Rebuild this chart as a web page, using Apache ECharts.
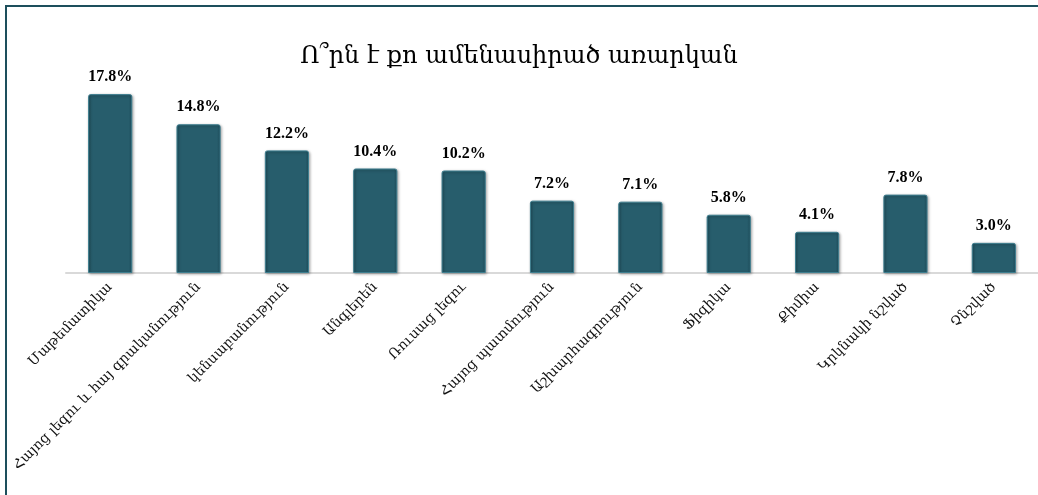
<!DOCTYPE html>
<html lang="hy">
<head>
    <meta charset="UTF-8">
    <title>Ո՞րն է քո ամենասիրած առարկան</title>
    <script src="https://cdn.jsdelivr.net/npm/echarts@6/dist/echarts.min.js"></script>
    <style>
        html, body { margin: 0; padding: 0; background: #fff; }
        #charts { width: 1038px; height: 495px; }
    </style>
</head>
<body>
<div id="charts"></div>
<script>
    var titleText = 'Ո՞րն է քո ամենասիրած առարկան';
    var subjects = [
        'Մաթեմատիկա',
        'Հայոց լեզու և հայ գրականություն',
        'կենսաբանություն',
        'Անգլերեն',
        'Ռուսաց լեզու',
        'Հայոց պատմություն',
        'Աշխարհագրություն',
        'Ֆիզիկա',
        'Քիմիա',
        'Կրկնակի նշված',
        'Չնշված'
    ];
    var percents = [17.8, 14.8, 12.2, 10.4, 10.2, 7.2, 7.1, 5.8, 4.1, 7.8, 3.0];

    var armFont = "'DejaVu Serif', 'DejaVu Sans', serif";
    var myChart = echarts.init(document.getElementById('charts'));

    var option = {
        animation: false,
        title: {
            text: titleText,
            left: 'center',
            top: 40,
            textStyle: {
                fontFamily: armFont,
                fontSize: 24,
                fontWeight: 'normal',
                color: '#000'
            }
        },
        grid: {
            left: 66,
            width: 978,
            top: 72,
            bottom: 222
        },
        xAxis: {
            type: 'category',
            data: subjects,
            axisTick: { show: false },
            axisLine: {
                lineStyle: { color: '#d9d9d9', width: 2 }
            },
            axisLabel: {
                interval: 0,
                rotate: 45,
                margin: 12,
                fontFamily: armFont,
                fontSize: 14,
                color: '#111'
            }
        },
        yAxis: {
            type: 'value',
            min: 0,
            max: 20,
            show: false
        },
        series: [
            {
                type: 'bar',
                data: percents,
                barCategoryGap: '50%',
                itemStyle: {
                    color: new echarts.graphic.LinearGradient(0, 0, 1, 0, [
                        { offset: 0, color: '#1f4f5d' },
                        { offset: 0.08, color: '#275d6c' },
                        { offset: 0.92, color: '#275d6c' },
                        { offset: 1, color: '#1f4f5d' }
                    ]),
                    borderColor: '#3f7f90',
                    borderWidth: 1,
                    borderRadius: [2, 2, 0, 0],
                    shadowColor: 'rgba(0,0,0,0.35)',
                    shadowBlur: 3,
                    shadowOffsetX: 1,
                    shadowOffsetY: 1
                },
                label: {
                    show: true,
                    position: 'top',
                    distance: 9,
                    formatter: function (p) { return p.value.toFixed(1) + '%'; },
                    fontFamily: "'Liberation Serif', serif",
                    fontWeight: 'bold',
                    fontSize: 16,
                    color: '#000'
                }
            }
        ],
        graphic: [
            {
                type: 'polyline',
                shape: { points: [[6, 495], [6, 6], [1038, 6]] },
                style: { stroke: '#1d4f5c', lineWidth: 2, fill: null },
                silent: true
            }
        ]
    };

    myChart.setOption(option);
</script>
</body>
</html>
